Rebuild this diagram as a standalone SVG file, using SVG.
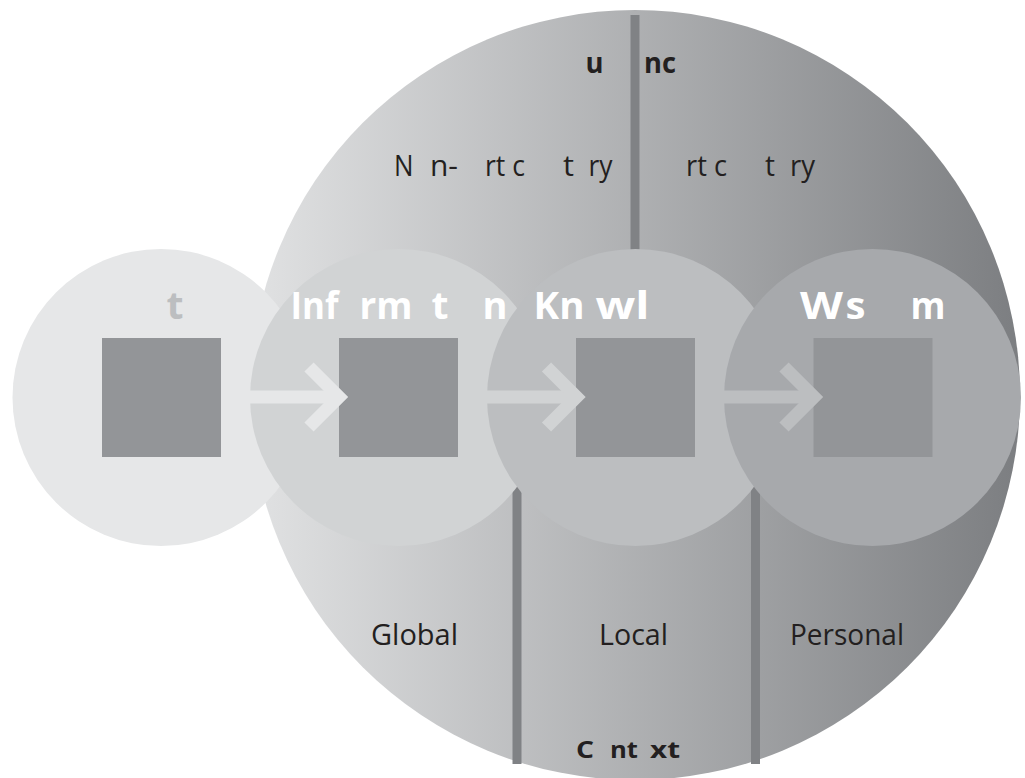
<svg xmlns="http://www.w3.org/2000/svg" width="1025" height="778" viewBox="0 0 1025 778">
  <defs>
    <linearGradient id="ctxFill" gradientUnits="userSpaceOnUse" x1="250" y1="0" x2="1020" y2="0">
      <stop offset="0" stop-color="#e1e2e3"/>
      <stop offset="1" stop-color="#7c7e81"/>
    </linearGradient>
    <style>
      .divider { stroke: #808285; stroke-width: 9; fill: none; }
      .sq { fill: #939598; }
      .shaft { stroke-width: 13; fill: none; }
      .head { stroke-width: 13; fill: none; stroke-linejoin: miter; stroke-miterlimit: 4; }
      .dark { fill: #231f20; font-family: "Open Sans", "Liberation Sans", sans-serif; }
      .reg { font-weight: 400; }
      .bold { font-weight: 700; }
      .white { fill: #ffffff; font-family: "Open Sans", "Liberation Sans", sans-serif; font-weight: 700; font-size: 38px; }
    </style>
  </defs>

  <!-- large context disc with its column dividers -->
  <g id="context">
    <circle cx="635" cy="395" r="385" fill="url(#ctxFill)"/>
    <line class="divider" x1="635" y1="15" x2="635" y2="250"/>
    <line class="divider" x1="517" y1="480" x2="517" y2="764"/>
    <line class="divider" x1="755.5" y1="480" x2="755.5" y2="764"/>
    <g class="dark bold" font-size="29">
      <text x="585.5" y="73" textLength="18" lengthAdjust="spacingAndGlyphs">u</text>
      <text x="644" y="73" textLength="32" lengthAdjust="spacingAndGlyphs">nc</text>
    </g>
    <g class="dark reg" font-size="29">
      <text x="394" y="176" textLength="19.5" lengthAdjust="spacingAndGlyphs">N</text>
      <text x="430" y="176" textLength="28" lengthAdjust="spacingAndGlyphs">n-</text>
      <text x="485" y="176" textLength="40" lengthAdjust="spacingAndGlyphs">rt c</text>
      <text x="563" y="176" textLength="11" lengthAdjust="spacingAndGlyphs">t</text>
      <text x="588.5" y="176" textLength="24" lengthAdjust="spacingAndGlyphs">ry</text>
      <text x="686" y="176" textLength="41" lengthAdjust="spacingAndGlyphs">rt c</text>
      <text x="765" y="176" textLength="10" lengthAdjust="spacingAndGlyphs">t</text>
      <text x="790" y="176" textLength="25" lengthAdjust="spacingAndGlyphs">ry</text>
    </g>
    <g class="dark reg" font-size="30">
      <text x="371" y="645" textLength="87" lengthAdjust="spacingAndGlyphs">Global</text>
      <text x="599" y="645" textLength="69" lengthAdjust="spacingAndGlyphs">Local</text>
      <text x="790" y="645" textLength="114" lengthAdjust="spacingAndGlyphs">Personal</text>
    </g>
    <g class="dark bold" font-size="24">
      <text x="576" y="758" textLength="18" lengthAdjust="spacingAndGlyphs">C</text>
      <text x="610" y="758" textLength="28" lengthAdjust="spacingAndGlyphs">nt</text>
      <text x="650" y="758" textLength="30" lengthAdjust="spacingAndGlyphs">xt</text>
    </g>
  </g>

  <!-- stage discs, left to right -->
  <g id="data">
    <circle cx="161" cy="397.5" r="148.5" fill="#e6e7e8"/>
  </g>
  <g id="information">
    <circle cx="398.5" cy="397.5" r="148.5" fill="#d1d3d4"/>
  </g>
  <g id="knowledge">
    <circle cx="635.5" cy="397.5" r="148.5" fill="#bcbec0"/>
  </g>
  <g id="wisdom">
    <circle cx="872.5" cy="397.5" r="148.5" fill="#a7a9ac"/>
  </g>

  <!-- stage boxes -->
  <g id="boxes">
    <rect class="sq" x="102" y="338" width="119" height="119"/>
    <rect class="sq" x="339" y="338" width="119" height="119"/>
    <rect class="sq" x="576" y="338" width="119" height="119"/>
    <rect class="sq" x="813.5" y="338" width="119" height="119"/>
  </g>

  <!-- flow arrows between stages -->
  <g id="connectors">
    <g stroke="#e6e7e8">
      <line class="shaft" x1="221" y1="397" x2="332" y2="397"/>
      <polyline class="head" points="309,367 339,397 309,427"/>
    </g>
    <g stroke="#d1d3d4">
      <line class="shaft" x1="458" y1="397" x2="569.5" y2="397"/>
      <polyline class="head" points="546.5,367 576.5,397 546.5,427"/>
    </g>
    <g stroke="#bcbec0">
      <line class="shaft" x1="695" y1="397" x2="807" y2="397"/>
      <polyline class="head" points="784,367 814,397 784,427"/>
    </g>
  </g>

  <!-- stage titles -->
  <g id="titles">
    <text x="166.5" y="319" class="white" fill="#bcbec0" style="fill:#bcbec0" textLength="17" lengthAdjust="spacingAndGlyphs">t</text>
    <text x="290.5" y="319" class="white" textLength="48" lengthAdjust="spacingAndGlyphs">Inf</text>
    <text x="359.5" y="319" class="white" textLength="53" lengthAdjust="spacingAndGlyphs">rm</text>
    <text x="431.5" y="319" class="white" textLength="17" lengthAdjust="spacingAndGlyphs">t</text>
    <text x="482.5" y="319" class="white" textLength="25" lengthAdjust="spacingAndGlyphs">n</text>
    <text x="533.5" y="319" class="white" textLength="51" lengthAdjust="spacingAndGlyphs">Kn</text>
    <text x="595.5" y="319" class="white" textLength="54" lengthAdjust="spacingAndGlyphs">wl</text>
    <text x="800" y="319" class="white" textLength="43" lengthAdjust="spacingAndGlyphs">W</text>
    <text x="845.5" y="319" class="white" textLength="20" lengthAdjust="spacingAndGlyphs">s</text>
    <text x="910.5" y="319" class="white" textLength="35" lengthAdjust="spacingAndGlyphs">m</text>
  </g>
</svg>
